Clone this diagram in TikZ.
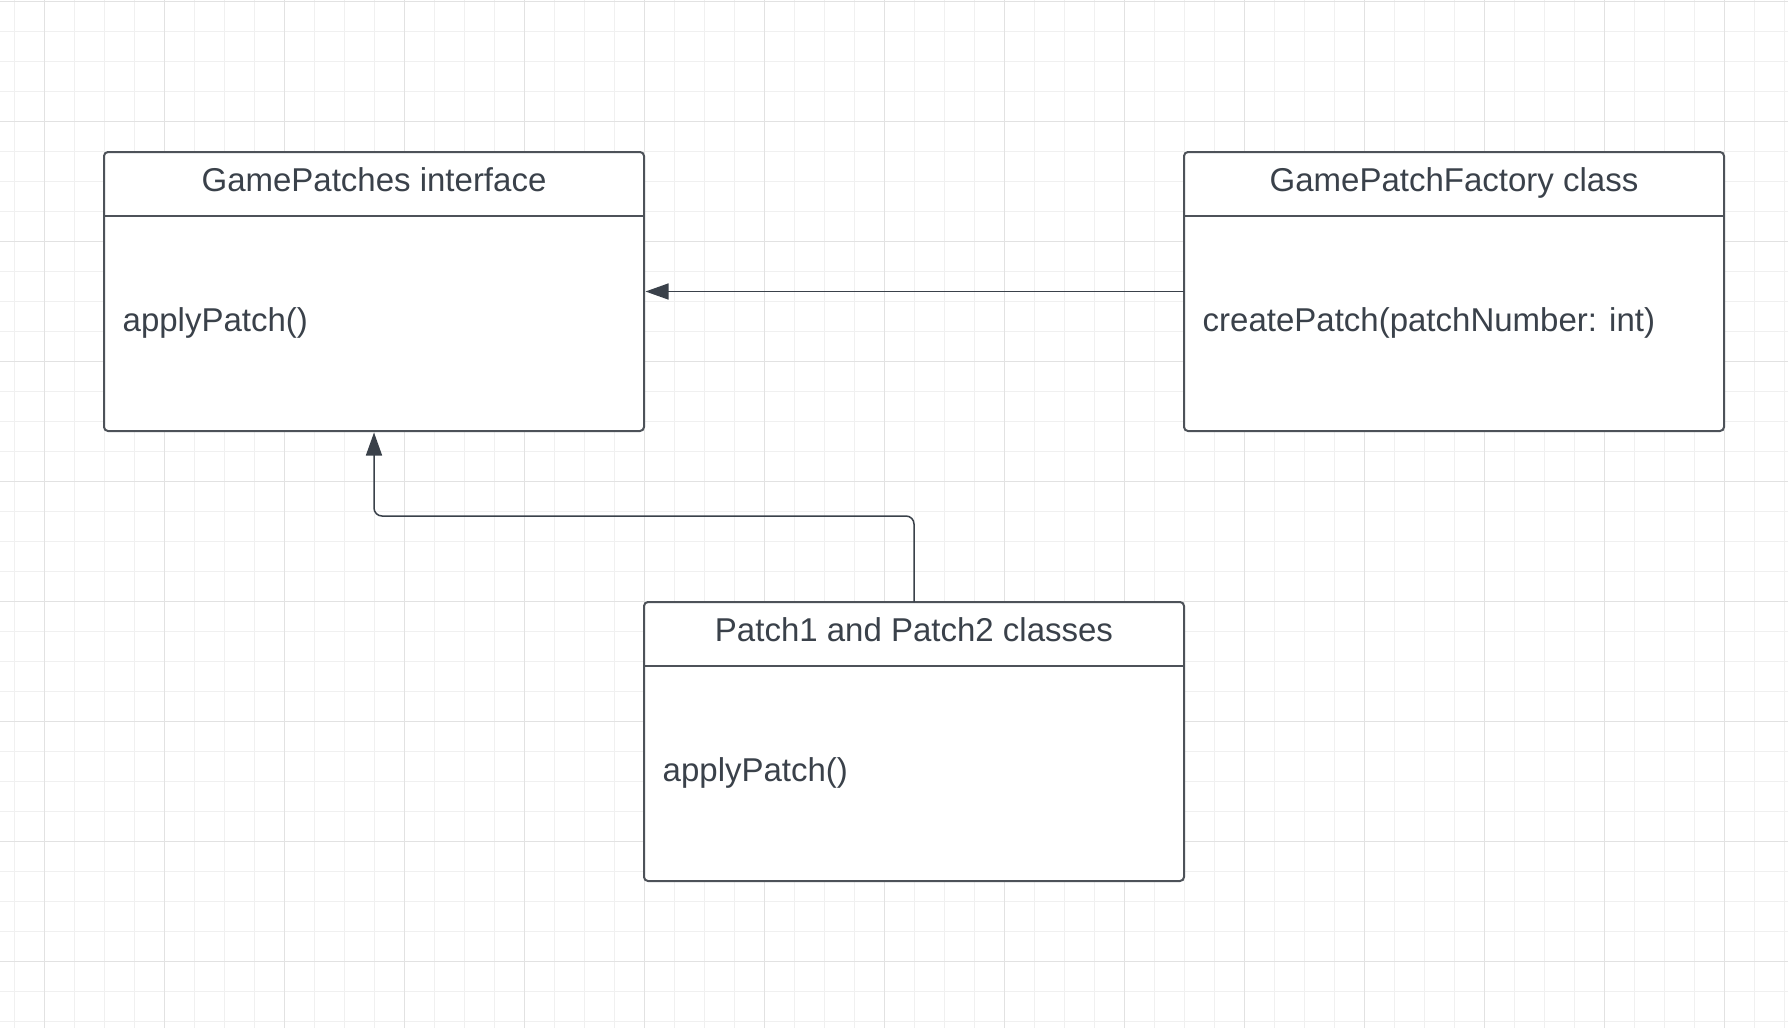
\documentclass[tikz,border=0pt]{standalone}
\usepackage{fontspec}
\setmainfont{Liberation Sans}
\usetikzlibrary{arrows.meta}
\definecolor{ink}{HTML}{3A414A}
\definecolor{edge}{HTML}{4D5259}
\definecolor{gridminor}{HTML}{F0F0F0}
\definecolor{gridmajor}{HTML}{E2E2E2}
\tikzset{
  classbox/.style={draw=edge, line width=2pt, rectangle, rounded corners=4pt,
    minimum width=540pt, minimum height=279pt, anchor=north west, inner sep=0pt, outer sep=0pt, fill=white},
  headline/.style={draw=edge, line width=2pt},
  titletext/.style={text=ink, font=\fontsize{33}{40}\selectfont, anchor=base, inner sep=0pt},
  bodytext/.style={text=ink, font=\fontsize{33}{40}\selectfont, anchor=base west, inner sep=0pt},
  conn/.style={draw=ink, line width=1.5pt, -{Triangle[length=23pt,width=16pt]}, shorten >=1.5pt},
  gminor/.style={draw=gridminor, line width=1pt},
  gmajor/.style={draw=gridmajor, line width=1pt}
}
\begin{document}
\begin{tikzpicture}[x=1pt,y=-1pt]
\useasboundingbox (0,0) rectangle (1788,1028);
\fill[white] (0,0) rectangle (1788,1028);
% grid
\foreach \x in {14,44,...,1784} \draw[gminor] (\x,0) -- (\x,1028);
\foreach \y in {1,31,...,1027} \draw[gminor] (0,\y) -- (1788,\y);
\foreach \x in {44,164,...,1784} \draw[gmajor] (\x,0) -- (\x,1028);
\foreach \y in {1,121,...,1027} \draw[gmajor] (0,\y) -- (1788,\y);
% boxes
\node[classbox] (gp) at (104,152) {};
\node[classbox] (gf) at (1184,152) {};
\node[classbox] (pc) at (644,602) {};
\draw[headline] ([yshift=-64pt]gp.north west) -- ([yshift=-64pt]gp.north east);
\draw[headline] ([yshift=-64pt]gf.north west) -- ([yshift=-64pt]gf.north east);
\draw[headline] ([yshift=-64pt]pc.north west) -- ([yshift=-64pt]pc.north east);
% texts
\node[titletext] (gpt) at ([yshift=-39.7pt]gp.north) {GamePatches interface};
\node[titletext] (gft) at ([yshift=-39.7pt]gf.north) {GamePatchFactory class};
\node[titletext] (pct) at ([yshift=-39.7pt]pc.north) {Patch1 and Patch2 classes};
\node[bodytext] (gpb) at ([xshift=18.5pt,yshift=-179pt]gp.north west) {applyPatch()};
\node[bodytext] (gfb) at ([xshift=18.5pt,yshift=-179pt]gf.north west) {createPatch(patchNumber: int)};
\node[bodytext] (pcb) at ([xshift=18.5pt,yshift=-179pt]pc.north west) {applyPatch()};
% connectors
\draw[conn] (gf.west) -- (gp.east);
\draw[conn, rounded corners=8pt] (pc.north) -- ++(0,-86) -| (gp.south);
\end{tikzpicture}
\end{document}
